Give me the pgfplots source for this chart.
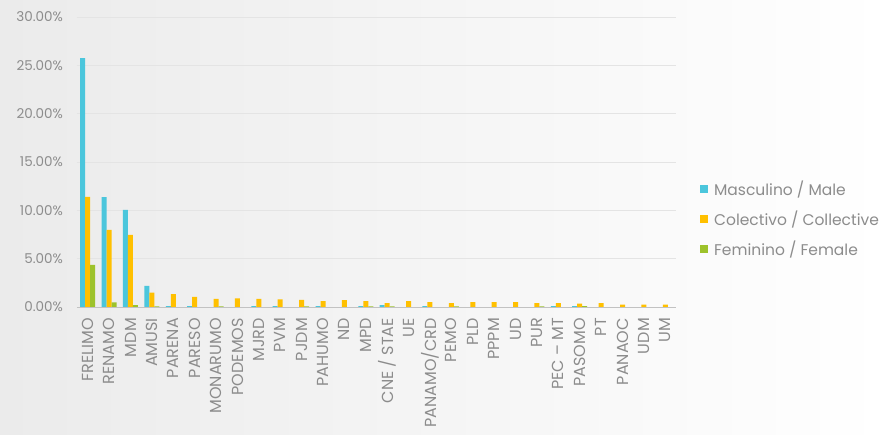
\documentclass[border=0pt]{standalone}
\usepackage{fontspec}
\setmainfont{Poppins}
\usepackage{pgfplots}
\usepackage{pgfplotstable}
\pgfplotsset{compat=1.18}
\definecolor{male}{HTML}{4BC6DC}
\definecolor{coll}{HTML}{FFC000}
\definecolor{fem}{HTML}{9DC22B}
\definecolor{txt}{HTML}{8C8C8C}
\definecolor{bgL}{HTML}{EBEBEB}
\definecolor{gridc}{HTML}{E4E4E4}
\pgfplotstableread{
x male coll fem
0 25.74 11.40 4.35
1 11.37 7.98 0.48
2 10.06 7.46 0.20
3 2.19 1.48 0.06
4 0.08 1.33 0
5 0.08 1.06 0
6 0 0.85 0.06
7 0 0.88 0
8 0.08 0.85 0
9 0.08 0.79 0
10 0 0.75 0.06
11 0.08 0.62 0
12 0 0.72 0
13 0.08 0.62 0.06
14 0.20 0.41 0.06
15 0 0.62 0
16 0.08 0.51 0
17 0 0.41 0.06
18 0 0.51 0
19 0 0.51 0
20 0 0.51 0
21 0 0.41 0.06
22 0.08 0.41 0
23 0.08 0.34 0.08
24 0 0.41 0
25 0 0.24 0
26 0 0.24 0
27 0 0.24 0
}\datatable
\begin{document}
\begin{tikzpicture}
\shade[left color=bgL, right color=white] (-77bp,-128bp) rectangle (809bp,307bp);
\useasboundingbox (-77bp,-128bp) rectangle (809bp,307bp);
\begin{axis}[
  width=599bp, height=290bp, scale only axis,
  xmin=-0.5, xmax=27.5, ymin=0, ymax=30,
  ybar=0pt, bar width=0.234,
  axis line style={draw=none},
  major tick length=0pt,
  ytick={0,5,...,30},
  yticklabel={\pgfmathprintnumber[fixed,fixed zerofill,precision=2]{\tick}\%},
  /pgf/number format/assume math mode=true,
  ymajorgrids, grid style={gridc, line width=0.8pt},
  xtick={0,...,27},
  xticklabels={FRELIMO,RENAMO,MDM,AMUSI,PARENA,PARESO,MONARUMO,PODEMOS,MJRD,PVM,PJDM,PAHUMO,ND,MPD,CNE / STAE,UE,PANAMO/CRD,PEMO,PLD,PPPM,UD,PUR,PEC -- MT,PASOMO,PT,PANAOC,UDM,UM},
  xticklabel style={rotate=90, anchor=east, inner sep=0pt, font=\fontsize{16bp}{18bp}\selectfont},
  yticklabel style={inner sep=0pt, xshift=-14bp, font=\fontsize{13.5bp}{16bp}\selectfont},
  tick label style={text=txt},
  xticklabel shift=11bp,
  legend style={draw=none, fill=none, at={(1.04,0.303)}, anchor=west,
    font=\fontsize{15.5bp}{18bp}\selectfont, text=txt, row sep=10bp,
    legend cell align=left, inner sep=0pt,
    /tikz/every odd column/.append style={column sep=4bp}},
  legend image code/.code={\fill[#1,draw=none] (0bp,-4bp) rectangle (8bp,4bp);},
  every axis plot/.append style={draw=none},
]
\addplot[fill=male] table[x=x,y=male] \datatable;
\addplot[fill=coll] table[x=x,y=coll] \datatable;
\addplot[fill=fem] table[x=x,y=fem] \datatable;
\legend{Masculino / Male, Colectivo / Collective, Feminino / Female}
\end{axis}
\draw[gridc!85!black, line width=0.8pt] (0,0) -- (599bp,0);
\end{tikzpicture}
\end{document}
